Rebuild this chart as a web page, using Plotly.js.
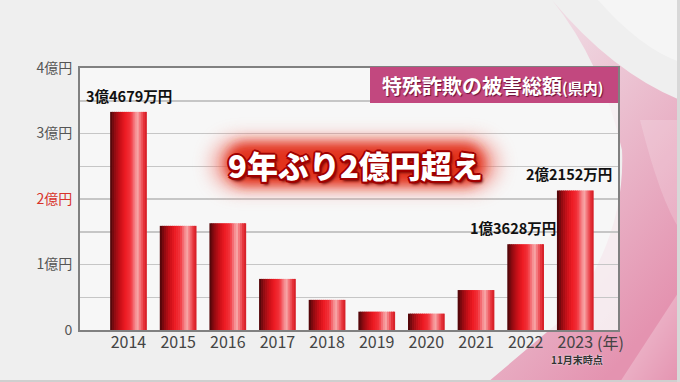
<!DOCTYPE html>
<html><head><meta charset="utf-8">
<script src="https://cdn.plot.ly/plotly-3.0.1.min.js"></script>
<style>html,body{margin:0;padding:0;background:#efefef;} #chart{width:680px;height:382px;}</style>
</head><body><div id="chart"></div>
<script>
// ---- data (amounts in 億円, as drawn) ----
const years = ['2014','2015','2016','2017','2018','2019','2020','2021','2022','2023'];
const amounts = [3.33, 1.59, 1.63, 0.78, 0.46, 0.28, 0.25, 0.61, 1.31, 2.13];
const valueLabels = ['3億4679万円','','','','','','','','1億3628万円','2億2152万円'];
const yTickVals = [0, 0.5, 1, 1.5, 2, 2.5, 3, 3.5, 4];
const yTickText = ['0','','1億円','','2億円','','3億円','','4億円'];
const chartTitle = '特殊詐欺の被害総額';
const titleSuffix = '(県内)';
const headline = '9年ぶり2億円超え';
const yearUnit = '(年)';
const footNote = '11月末時点';

// ---- layout geometry helpers ----
const W = 680, H = 382, ML = 80, MR = 62, MT = 68, MB = 52;
const PW = W - ML - MR, PH = H - MT - MB;
const px = v => (v - ML) / PW;
const py = v => (H - MB - v) / PH;
const CJK = '"Noto Sans CJK JP", "Noto Sans", sans-serif';

// ---- cylinder-like gradient for bars ----
const stops = [
  [0.00, [70, 6, 8]],
  [0.12, [140, 10, 16]],
  [0.28, [204, 16, 24]],
  [0.42, [238, 28, 36]],
  [0.56, [242, 52, 60]],
  [0.66, [245, 122, 128]],
  [0.74, [248, 170, 170]],
  [0.83, [242, 106, 112]],
  [0.93, [228, 42, 50]],
  [1.00, [208, 28, 36]]
];
function gradColor(t) {
  for (let i = 1; i < stops.length; i++) {
    if (t <= stops[i][0]) {
      const a = stops[i-1], b = stops[i];
      const f = (t - a[0]) / (b[0] - a[0]);
      const c = a[1].map((v, k) => Math.round(v + (b[1][k] - v) * f));
      return 'rgb(' + c.join(',') + ')';
    }
  }
  return 'rgb(' + stops[stops.length-1][1].join(',') + ')';
}
const BW = 0.74, N = 18;
const traces = [];
for (let k = 0; k < N; k++) {
  const w = BW / N;
  traces.push({
    type: 'bar', x: years, y: amounts,
    offset: -BW/2 + k*w,
    width: k === N-1 ? w : w*1.35,
    marker: {color: gradColor((k + 0.5) / N), line: {width: 0}},
    hoverinfo: 'skip', showlegend: false
  });
}

// ---- decorative background / glow ----
const bgSvg = `<svg xmlns='http://www.w3.org/2000/svg' width='680' height='382' viewBox='0 0 680 382'>
<defs>
<linearGradient id='g1' x1='0' y1='0' x2='0.6' y2='1'>
<stop offset='0' stop-color='#f2eaee'/><stop offset='0.3' stop-color='#eed2dd'/><stop offset='1' stop-color='#e493b0'/>
</linearGradient>
<linearGradient id='g2' x1='0' y1='0' x2='1' y2='1'>
<stop offset='0' stop-color='#ffffff' stop-opacity='0.5'/><stop offset='1' stop-color='#ffffff' stop-opacity='0'/>
</linearGradient>
</defs>
<rect width='680' height='382' fill='#efefef'/>
<path d='M552 0 Q612 72 680 100 L680 382 L488 382 L566 316 Q626 236 622 150 Q602 62 552 0 Z' fill='url(#g1)'/>
<path d='M598 0 Q640 48 680 62 L680 0 Z' fill='#f5f5f5'/>
<path d='M620 382 L680 290 L680 382 Z' fill='url(#g2)'/>
<path d='M640 120 Q660 200 680 230 L680 120 Z' fill='#ffffff' opacity='0.18'/>
<rect x='0' y='380' width='680' height='2' fill='#cfcfcf'/>
<rect x='677' y='0' width='3' height='382' fill='#d8d8d8'/>
</svg>`;
const glowSvg = `<svg xmlns='http://www.w3.org/2000/svg' width='360' height='110' viewBox='0 0 360 110'>
<defs>
<filter id='b' x='-40%' y='-80%' width='180%' height='260%'><feGaussianBlur stdDeviation='9'/></filter>
<filter id='c' x='-40%' y='-80%' width='180%' height='260%'><feGaussianBlur stdDeviation='6'/></filter>
</defs>
<rect x='36' y='28' width='288' height='54' rx='27' fill='#f07a70' opacity='0.6' filter='url(#b)'/>
<rect x='50' y='34' width='260' height='42' rx='21' fill='#e2301c' filter='url(#c)'/>
</svg>`;
const uri = s => 'data:image/svg+xml;charset=utf-8,' + encodeURIComponent(s);

// ---- annotations ----
const labelShift = {0: 0, 8: -13, 9: -6};
const last = years.length - 1;
const annotations = [];
valueLabels.forEach((t, i) => {
  if (!t) return;
  annotations.push({
    x: i, y: amounts[i], xref: 'x', yref: 'y', text: t, showarrow: false,
    xanchor: 'center', yanchor: 'bottom', yshift: 4, xshift: labelShift[i] || 0,
    font: {family: CJK, size: 14.5, color: '#111', weight: 700}
  });
});
annotations.push({
  x: px(492), y: py(85), xref: 'paper', yref: 'paper', showarrow: false,
  xanchor: 'center', yanchor: 'middle',
  text: chartTitle + '<span style="font-size:15px">' + titleSuffix + '</span>',
  font: {family: CJK, size: 20, color: '#ffffff', weight: 700, shadow: '1px 1px 1px #6a1038'}
});
annotations.push({
  x: px(355), y: py(164), xref: 'paper', yref: 'paper', showarrow: false,
  xanchor: 'center', yanchor: 'middle',
  text: headline,
  font: {family: CJK, size: 31, color: '#ffffff', weight: 900,
    shadow: '-2px 0 0 #a00000, 2px 0 0 #a00000, 0 -2px 0 #a00000, 0 2px 0 #a00000, -1.5px -1.5px 0 #a00000, 1.5px -1.5px 0 #a00000, -1.5px 1.5px 0 #a00000, 1.5px 1.5px 0 #a00000, 2px 3px 3px #600000'}
});
annotations.push({
  x: last, y: py(342), xref: 'x', yref: 'paper', showarrow: false,
  xanchor: 'left', yanchor: 'middle', xshift: 20, text: yearUnit,
  font: {family: CJK, size: 16, color: '#444'}
});
annotations.push({
  x: last, y: py(359), xref: 'x', yref: 'paper', showarrow: false,
  xanchor: 'center', yanchor: 'middle', xshift: 2, text: footNote,
  font: {family: CJK, size: 10, color: '#333', weight: 700, shadow: '0 0 2px #ffffff'}
});

const layout = {
  width: W, height: H,
  margin: {l: ML, r: MR, t: MT, b: MB, pad: 0},
  paper_bgcolor: '#efefef',
  plot_bgcolor: 'rgba(0,0,0,0)',
  barmode: 'overlay',
  showlegend: false,
  xaxis: {
    type: 'category', range: [-0.977, 9.86], fixedrange: true,
    showgrid: false, zeroline: false, ticks: '',
    showline: true, linecolor: '#808080', linewidth: 2, mirror: true,
    ticklabelstandoff: -3,
    tickfont: {family: CJK, size: 16, color: '#444'}
  },
  yaxis: {
    range: [0, 4], fixedrange: true,
    tickvals: yTickVals,
    ticktext: yTickText.map(t => t === '2億円' ? '<span style="color:#d8322a">' + t + '</span>' : t),
    showgrid: true, gridcolor: '#c6c6c6', gridwidth: 1.5, zeroline: false, ticks: '',
    showline: true, linecolor: '#808080', linewidth: 2, mirror: true,
    ticklabelstandoff: 3,
    tickfont: {family: CJK, size: 14, color: '#555'}
  },
  images: [
    {source: uri(bgSvg), xref: 'paper', yref: 'paper', x: -ML/PW, y: 1 + MT/PH,
     sizex: W/PW, sizey: H/PH, xanchor: 'left', yanchor: 'top', sizing: 'stretch', layer: 'below'},
    {source: uri(glowSvg), xref: 'paper', yref: 'paper', x: px(355), y: py(164),
     sizex: 360/PW, sizey: 110/PH, xanchor: 'center', yanchor: 'middle', sizing: 'stretch', layer: 'above'}
  ],
  shapes: [
    {type: 'rect', xref: 'paper', yref: 'paper', x0: 0, x1: 1, y0: 0, y1: 1,
     fillcolor: 'rgba(248,248,248,0.85)', line: {width: 0}, layer: 'below'},
    {type: 'line', xref: 'paper', yref: 'y', x0: 0, x1: 1, y0: 2, y1: 2,
     line: {color: '#d8322a', width: 1.5}, layer: 'between'},
    {type: 'rect', xref: 'paper', yref: 'paper', x0: px(370), x1: px(618), y0: py(103), y1: py(67),
     fillcolor: '#c2487f', line: {width: 0}, layer: 'above'}
  ],
  annotations: annotations
};

Plotly.newPlot('chart', traces, layout, {staticPlot: true, displayModeBar: false});
</script>
</body></html>
